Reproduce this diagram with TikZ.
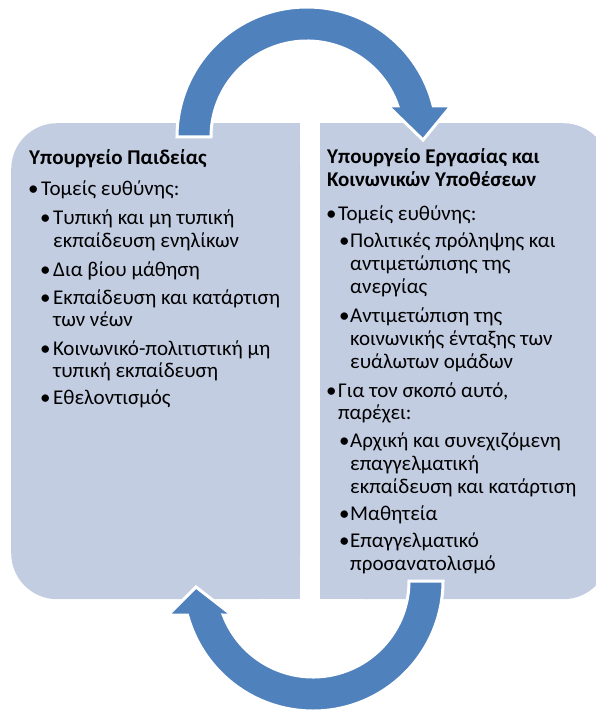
\documentclass[tikz,border=0pt]{standalone}
\usepackage{fontspec}
\setmainfont{Carlito}
\definecolor{panelfill}{RGB}{195,205,226}
\definecolor{arrowblue}{RGB}{79,129,189}
\tikzset{
    panel/.style={fill=panelfill, rounded corners=46pt, inner sep=0pt,
        minimum width=289pt, minimum height=476pt, anchor=north west},
    txt/.style={font=\fontsize{21}{25}\selectfont, anchor=base west, inner sep=0pt},
    ttl/.style={txt, font=\fontsize{21}{25}\selectfont\bfseries},
    cyc/.style={fill=arrowblue, draw=white, line width=3pt}
}

\begin{document}
\begin{tikzpicture}[x=1pt, y=-1pt]
    \useasboundingbox (0,0) rectangle (596,711);
    \clip (0,0) rectangle (596,711);
    % panels
    \node[panel] (edu) at (11,123) {};
    \fill[panelfill] (edu.north) rectangle (edu.south east);
    \node[panel] (lab) at (320,123) {};
    \fill[panelfill] (lab.north west) rectangle (lab.south);
    % cycle arrows
    \coordinate (top) at (307,137);
    \coordinate (bot) at (313,581);
    \filldraw[cyc] ([shift={(180:130)}]top) arc[start angle=180, end angle=346.2, radius=130]
        -- (451,106) -- (423,140) -- (388,106)
        -- ([shift={(341.16:96)}]top) arc[start angle=341.16, end angle=180, radius=96] -- cycle;
    \filldraw[cyc] ([shift={(0:130)}]bot) arc[start angle=0, end angle=164.84, radius=130]
        -- (168,615) -- (196,587) -- (232,615)
        -- ([shift={(159.26:96)}]bot) arc[start angle=159.26, end angle=0, radius=96] -- cycle;
    % titles
    \node[ttl] (t1) at (29,165) {Υπουργείο Παιδείας};
    \node[ttl] (t2) at (327,164) {Υπουργείο Εργασίας και};
    \node[ttl] (t3) at (327,187) {Κοινωνικών Υποθέσεων};
    % bullets
    \foreach \x/\y [count=\i] in {28/196, 40/225, 40/276, 40/304, 40/355, 40/404,
        326/220, 339/247, 339/322, 326/397, 339/447, 339/520, 339/547} {
        \node[txt] (b\i) at (\x,\y) {•};
    }
    % lines
    \foreach \x/\y/\t [count=\i] in {
        41/196/{Τομείς ευθύνης:},
        53/225/{Τυπική και μη τυπική},
        53/247/{εκπαίδευση ενηλίκων},
        53/276/{Δια βίου μάθηση},
        53/304/{Εκπαίδευση και κατάρτιση},
        53/326/{των νέων},
        53/355/{Κοινωνικό-πολιτιστική μη},
        53/377/{τυπική εκπαίδευση},
        53/404/{Εθελοντισμός},
        338/220/{Τομείς ευθύνης:},
        350/247/{Πολιτικές πρόληψης και},
        350/270/{αντιμετώπισης της},
        350/293/{ανεργίας},
        350/322/{Αντιμετώπιση της},
        350/345/{κοινωνικής ένταξης των},
        350/368/{ευάλωτων ομάδων},
        338/397/{Για τον σκοπό αυτό,},
        338/419/{παρέχει:},
        350/447/{Αρχική και συνεχιζόμενη},
        350/470/{επαγγελματική},
        350/493/{εκπαίδευση και κατάρτιση},
        350/520/{Μαθητεία},
        350/547/{Επαγγελματικό},
        350/570/{προσανατολισμό}} {
        \node[txt] (l\i) at (\x,\y) {\t};
    }
\end{tikzpicture}
\end{document}
